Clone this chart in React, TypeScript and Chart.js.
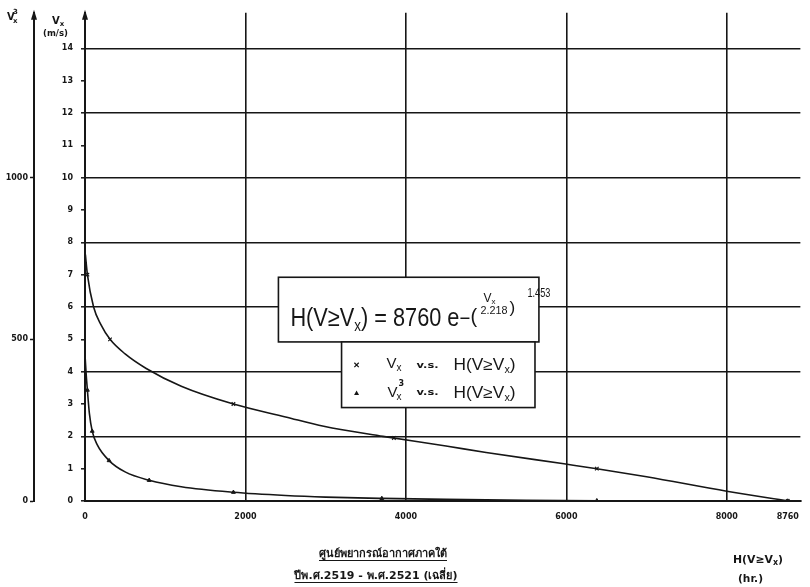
import React, { useEffect, useRef } from "react";
import { Chart, registerables } from "chart.js";

Chart.register(...registerables);

// ---------- data ----------
// Vx (m/s) versus H(V >= Vx) in hours: fitted curve
const vxCurveHours = [5, 30, 107, 200, 312, 500, 763, 1200, 1850, 2500, 2976, 3714, 4500, 5000, 5970, 6380, 7000, 8000, 8760];
const vxCurveValues = [7.62, 7.0, 6.0, 5.45, 5.0, 4.55, 4.1, 3.55, 3.0, 2.6, 2.31, 2.0, 1.7, 1.5, 1.15, 1.0, 0.75, 0.3, 0];
// Vx observed points (x marks)
const vxPointHours = [30, 312, 1850, 3850, 6380, 8760];
const vxPointValues = [7, 5, 3, 1.95, 1, 0];

// Vx^3 versus H(V >= Vx): fitted curve
const v3CurveHours = [3, 15, 30, 55, 90, 150, 300, 500, 800, 1200, 1850, 2500, 3000, 3700, 4500, 5500, 6400, 7500, 8760];
const v3CurveValues = [440, 390, 343, 270, 216, 175, 125, 90, 64, 44, 27, 17, 12, 8, 5, 2.5, 1, 0.3, 0];
// Vx^3 observed points (triangles)
const v3PointHours = [30, 90, 300, 800, 1850, 3700, 6380, 8760];
const v3PointValues = [343, 216, 125, 64, 27, 8, 1, 0];

// tick labels
const xTickValues = [0, 2000, 4000, 6000, 8000, 8760];
const xGridValues = [2000, 4000, 6000, 8000];
const vxTickValues = [0, 1, 2, 3, 4, 5, 6, 7, 8, 9, 10, 11, 12, 13, 14];
const v3TickValues = [0, 500, 1000];

// texts
const thaiLine1 = "ศูนย์พยากรณ์อากาศภาคใต้";
const thaiLine2 = "ปีพ.ศ.2519 - พ.ศ.2521 (เฉลี่ย)";

// ---------- styling / layout ----------
const INK = "#161616";
const NONE = "rgba(0,0,0,0)";
const EQ_FONT = "Liberation Sans";
const LBL_FONT = "DejaVu Sans";
const EQ_BOX = { x0: 2411, x1: 5658, y0: 6.92, y1: 4.92 };
const LEG_BOX = { x0: 3198, x1: 5609, y0: 4.92, y1: 2.89 };

type Run = { t: string; s: number; dy?: number; w?: string; f?: string };

function runWidth(ctx: CanvasRenderingContext2D, parts: Run[], family: string) {
  let w = 0;
  for (const p of parts) {
    ctx.font = `${p.w || "normal"} ${p.s}px "${p.f || family}"`;
    w += ctx.measureText(p.t).width;
  }
  return w;
}

function drawRuns(ctx: CanvasRenderingContext2D, x: number, y: number, parts: Run[], family: string, targetW?: number) {
  const natural = runWidth(ctx, parts, family);
  const sx = targetW ? targetW / natural : 1;
  ctx.save();
  ctx.translate(x, y);
  ctx.scale(sx, 1);
  ctx.textBaseline = "alphabetic";
  ctx.textAlign = "left";
  let cx = 0;
  for (const p of parts) {
    ctx.font = `${p.w || "normal"} ${p.s}px "${p.f || family}"`;
    ctx.fillText(p.t, cx, p.dy || 0);
    cx += ctx.measureText(p.t).width;
  }
  ctx.restore();
}

function drawCross(ctx: CanvasRenderingContext2D, x: number, y: number, r: number) {
  ctx.beginPath();
  ctx.moveTo(x - r, y - r);
  ctx.lineTo(x + r, y + r);
  ctx.moveTo(x + r, y - r);
  ctx.lineTo(x - r, y + r);
  ctx.stroke();
}

function drawTri(ctx: CanvasRenderingContext2D, x: number, y: number, r: number) {
  ctx.beginPath();
  ctx.moveTo(x, y - r);
  ctx.lineTo(x + r, y + r * 0.8);
  ctx.lineTo(x - r, y + r * 0.8);
  ctx.closePath();
  ctx.fill();
}

const decorations = {
  id: "decorations",
  beforeDraw(chart: any) {
    const { ctx, width, height } = chart;
    ctx.save();
    ctx.fillStyle = "#fff";
    ctx.fillRect(0, 0, width, height);
    ctx.restore();
  },
  afterDraw(chart: any) {
    const { ctx, chartArea, scales } = chart;
    const xs = scales.x;
    const ys = scales.y;
    const y2 = scales.y2;
    ctx.save();
    ctx.fillStyle = INK;
    ctx.strokeStyle = INK;

    // arrow heads on both vertical axes
    for (const ax of [ys.right, y2.right]) {
      ctx.beginPath();
      ctx.moveTo(ax, chartArea.top - 3);
      ctx.lineTo(ax - 3, chartArea.top + 7);
      ctx.lineTo(ax + 3, chartArea.top + 7);
      ctx.closePath();
      ctx.fill();
    }

    // axis titles
    drawRuns(ctx, 7, 20, [{ t: "V", s: 10, w: "bold" }], LBL_FONT);
    drawRuns(ctx, 13, 14, [{ t: "3", s: 7, w: "bold" }], LBL_FONT);
    drawRuns(ctx, 13, 23, [{ t: "x", s: 7, w: "bold" }], LBL_FONT);
    drawRuns(ctx, 52, 24, [{ t: "V", s: 10, w: "bold" }, { t: "x", s: 7, w: "bold", dy: 2 }], LBL_FONT);
    drawRuns(ctx, 43, 36, [{ t: "(m/s)", s: 9, w: "bold" }], LBL_FONT, 25);

    // equation box
    const ex0 = xs.getPixelForValue(EQ_BOX.x0);
    const ex1 = xs.getPixelForValue(EQ_BOX.x1);
    const ey0 = ys.getPixelForValue(EQ_BOX.y0);
    const ey1 = ys.getPixelForValue(EQ_BOX.y1);
    ctx.fillStyle = "#fff";
    ctx.fillRect(ex0, ey0, ex1 - ex0, ey1 - ey0);
    ctx.lineWidth = 1.6;
    ctx.strokeRect(ex0, ey0, ex1 - ex0, ey1 - ey0);
    ctx.fillStyle = INK;
    drawRuns(
      ctx,
      ex0 + 12,
      ey0 + 49,
      [
        { t: "H(V≥V", s: 26 },
        { t: "x", s: 16, dy: 5 },
        { t: ")", s: 26 },
        { t: " = 8760 e", s: 26 },
      ],
      EQ_FONT,
      169
    );
    ctx.lineWidth = 1.5;
    ctx.beginPath();
    ctx.moveTo(ex0 + 182, ey0 + 41);
    ctx.lineTo(ex0 + 191, ey0 + 41);
    ctx.stroke();
    drawRuns(ctx, ex0 + 192, ey0 + 46, [{ t: "(", s: 20 }], EQ_FONT);
    drawRuns(ctx, ex0 + 205, ey0 + 25, [{ t: "V", s: 12 }, { t: "x", s: 8, dy: 2 }], EQ_FONT);
    drawRuns(ctx, ex0 + 202, ey0 + 37, [{ t: "2.218", s: 11 }], EQ_FONT, 27);
    drawRuns(ctx, ex0 + 231, ey0 + 36, [{ t: ")", s: 17 }], EQ_FONT);
    drawRuns(ctx, ex0 + 249, ey0 + 20, [{ t: "1.453", s: 12 }], EQ_FONT, 23);

    // legend box
    const lx0 = xs.getPixelForValue(LEG_BOX.x0);
    const lx1 = xs.getPixelForValue(LEG_BOX.x1);
    const ly0 = ys.getPixelForValue(LEG_BOX.y0);
    const ly1 = ys.getPixelForValue(LEG_BOX.y1);
    ctx.fillStyle = "#fff";
    ctx.fillRect(lx0, ly0, lx1 - lx0, ly1 - ly0);
    ctx.lineWidth = 1.6;
    ctx.strokeRect(lx0, ly0, lx1 - lx0, ly1 - ly0);
    ctx.fillStyle = INK;
    ctx.lineWidth = 1.2;
    drawCross(ctx, lx0 + 15, ly0 + 23, 2.2);
    drawTri(ctx, lx0 + 15, ly0 + 51, 2.5);
    const hvx: Run[] = [
      { t: "H(V≥V", s: 16 },
      { t: "x", s: 10, dy: 3 },
      { t: ")", s: 16 },
    ];
    // row 1
    drawRuns(ctx, lx0 + 45, ly0 + 26, [{ t: "V", s: 15 }, { t: "x", s: 10, dy: 3 }], EQ_FONT);
    drawRuns(ctx, lx0 + 75, ly0 + 26, [{ t: "v.s.", s: 8, w: "bold", f: LBL_FONT }], EQ_FONT, 22);
    drawRuns(ctx, lx0 + 112, ly0 + 28, hvx, EQ_FONT, 62);
    // row 2
    drawRuns(ctx, lx0 + 46, ly0 + 55, [{ t: "V", s: 15 }], EQ_FONT);
    drawRuns(ctx, lx0 + 57, ly0 + 44, [{ t: "3", s: 8, w: "bold", f: LBL_FONT }], EQ_FONT);
    drawRuns(ctx, lx0 + 55, ly0 + 58, [{ t: "x", s: 10 }], EQ_FONT);
    drawRuns(ctx, lx0 + 75, ly0 + 53, [{ t: "v.s.", s: 8, w: "bold", f: LBL_FONT }], EQ_FONT, 22);
    drawRuns(ctx, lx0 + 112, ly0 + 56, hvx, EQ_FONT, 62);

    // x-axis title at the right
    drawRuns(
      ctx,
      733,
      563,
      [
        { t: "H(V≥V", s: 11, w: "bold" },
        { t: "x", s: 8, w: "bold", dy: 2 },
        { t: ")", s: 11, w: "bold" },
      ],
      LBL_FONT,
      50
    );
    drawRuns(ctx, 738, 582, [{ t: "(hr.)", s: 10, w: "bold" }], LBL_FONT, 25);

    // source lines (Thai), underlined
    ctx.font = `bold 11px "${LBL_FONT}"`;
    ctx.textAlign = "center";
    ctx.textBaseline = "alphabetic";
    const lines: [string, number, number][] = [
      [thaiLine1, 383, 557],
      [thaiLine2, 376, 579],
    ];
    ctx.lineWidth = 1;
    for (const [t, cx, by] of lines) {
      ctx.fillText(t, cx, by);
      const w = ctx.measureText(t).width;
      ctx.beginPath();
      ctx.moveTo(cx - w / 2, by + 3.5);
      ctx.lineTo(cx + w / 2, by + 3.5);
      ctx.stroke();
    }
    ctx.restore();
  },
};

function toXY(xs: number[], ys: number[]) {
  return xs.map((x, i) => ({ x, y: ys[i] }));
}

export default function App() {
  const ref = useRef<HTMLCanvasElement | null>(null);

  useEffect(() => {
    if (!ref.current) return;
    const tickFont = { family: LBL_FONT, size: 8, weight: "bold" as const };
    const chart = new Chart(ref.current, {
      type: "line",
      data: {
        datasets: [
          {
            label: "Vx v.s. H(V≥Vx)",
            data: toXY(vxCurveHours, vxCurveValues),
            yAxisID: "y",
            borderColor: INK,
            borderWidth: 1.6,
            pointRadius: 0,
            cubicInterpolationMode: "monotone",
            fill: false,
          },
          {
            label: "Vx points",
            data: toXY(vxPointHours, vxPointValues),
            yAxisID: "y",
            showLine: false,
            pointStyle: "crossRot",
            pointRadius: 2.5,
            pointBorderWidth: 1.2,
            pointBorderColor: INK,
            borderColor: INK,
          },
          {
            label: "Vx³ v.s. H(V≥Vx)",
            data: toXY(v3CurveHours, v3CurveValues),
            yAxisID: "y2",
            borderColor: INK,
            borderWidth: 1.6,
            pointRadius: 0,
            cubicInterpolationMode: "monotone",
            fill: false,
          },
          {
            label: "Vx³ points",
            data: toXY(v3PointHours, v3PointValues),
            yAxisID: "y2",
            showLine: false,
            pointStyle: "triangle",
            pointRadius: 2.2,
            pointBackgroundColor: INK,
            pointBorderColor: INK,
            borderColor: INK,
          },
        ],
      },
      options: {
        responsive: false,
        animation: false,
        devicePixelRatio: 1,
        layout: { padding: { top: 10, left: 0, right: 0, bottom: 0 } },
        plugins: {
          legend: { display: false },
          title: { display: false },
          tooltip: { enabled: false },
        },
        scales: {
          x: {
            type: "linear",
            min: 0,
            max: 8917,
            afterBuildTicks: (s: any) => {
              s.ticks = xTickValues.map((v) => ({ value: v }));
            },
            afterFit: (s: any) => {
              s.height = 86;
            },
            grid: {
              color: (c: any) => (c.tick && xGridValues.includes(c.tick.value) ? INK : NONE),
              lineWidth: 1.6,
              drawTicks: false,
            },
            border: { color: INK, width: 2 },
            ticks: {
              color: INK,
              font: tickFont,
              padding: 11,
              autoSkip: false,
              maxRotation: 0,
              callback: (v: any) => String(v),
            },
          },
          y: {
            type: "linear",
            position: "left",
            weight: 0,
            min: 0,
            max: 15.1,
            afterBuildTicks: (s: any) => {
              s.ticks = vxTickValues.map((v) => ({ value: v }));
            },
            afterFit: (s: any) => {
              s.width = 51;
            },
            grid: {
              color: (c: any) => (c.tick && c.tick.value > 0 && c.tick.value % 2 === 0 ? INK : NONE),
              lineWidth: 1.6,
              drawTicks: true,
              tickLength: 4,
              tickColor: INK,
              tickWidth: 1.5,
            },
            border: { color: INK, width: 2 },
            ticks: {
              color: INK,
              font: tickFont,
              padding: 8,
              callback: (v: any) => String(v),
            },
          },
          y2: {
            type: "linear",
            position: "left",
            weight: 1,
            min: 0,
            max: 1510,
            afterBuildTicks: (s: any) => {
              s.ticks = v3TickValues.map((v) => ({ value: v }));
            },
            afterFit: (s: any) => {
              s.width = 34;
            },
            grid: {
              drawOnChartArea: false,
              drawTicks: true,
              tickLength: 4,
              tickColor: INK,
              tickWidth: 1.5,
            },
            border: { color: INK, width: 2 },
            ticks: {
              color: INK,
              font: tickFont,
              padding: 2,
              callback: (v: any) => String(v),
            },
          },
        },
      },
      plugins: [decorations],
    });
    return () => chart.destroy();
  }, []);

  return (
    <div style={{ position: "absolute", left: 0, top: 0, width: 810, height: 587, background: "#fff" }}>
      <canvas ref={ref} width={810} height={587} style={{ display: "block" }} />
    </div>
  );
}
